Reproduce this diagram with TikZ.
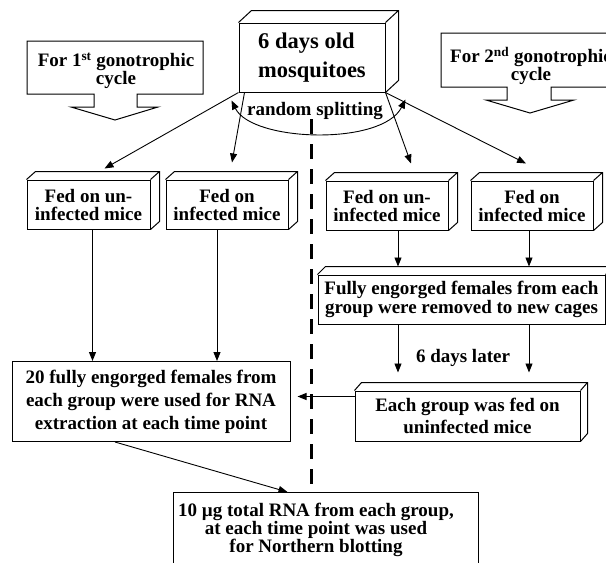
\documentclass[tikz,border=0pt]{standalone}
\usepackage{fontspec}
\setmainfont{Liberation Serif}
\usetikzlibrary{calc,arrows.meta}

\tikzset{
  txt/.style={inner sep=0pt,align=center,font=\bfseries\fontsize{19}{18}\selectfont},
  box/.style={txt,draw,line width=1pt},
  divider/.style={line width=3pt,dash pattern=on 15pt off 10pt}
}
\newcommand{\slab}[3]{\draw[line width=1pt] (#1.north west) -- ++(#2,-#3) -- ($(#1.north east)+(#2,-#3)$) -- ($(#1.south east)+(#2,-#3)$) -- (#1.south east) (#1.north east) -- ++(#2,-#3);}

\begin{document}
\begin{tikzpicture}[x=1pt,y=-1pt,line width=0.9pt,>={Triangle[length=9pt,width=7pt]}]
    \useasboundingbox (0,0) rectangle (606,563);
    \clip (0,0) rectangle (606,563);
    % callouts
    \draw[line width=1pt] (27,41) -- (203,41) -- (203,94) -- (137,94) -- (137,107) -- (158,107) -- (115,120) -- (71,107) -- (94,107) -- (94,94) -- (27,94) -- cycle;
    \node[txt] (c1) at (116,71) {For 1\textsuperscript{st} gonotrophic\\cycle};
    \draw[line width=1pt] (441,33) -- (625,33) -- (625,87) -- (551,87) -- (551,100) -- (574,100) -- (530,113) -- (486,100) -- (507,100) -- (507,87) -- (441,87) -- cycle;
    \node[txt] (c2) at (531,66) {For 2\textsuperscript{nd} gonotrophic\\cycle};
    % boxes
    \node[box,minimum width=146pt,minimum height=69pt,align=left,font=\bfseries\fontsize{22.5}{29}\selectfont] (top) at (312,57.5) {6 days old\\mosquitoes};
    \slab{top}{13}{12}
    \node[box,minimum width=123pt,minimum height=49pt] (fu1) at (88.5,204.5) {Fed on un-\\infected mice};
    \node[box,minimum width=122pt,minimum height=49pt] (fi1) at (227,204.5) {Fed on\\infected mice};
    \node[box,minimum width=122pt,minimum height=49pt] (fu2) at (387,205.5) {Fed on un-\\infected mice};
    \node[box,minimum width=122pt,minimum height=49pt] (fi2) at (532,205.5) {Fed on\\infected mice};
    \slab{fu1}{9}{8}
    \slab{fi1}{9}{8}
    \slab{fu2}{9}{8}
    \slab{fi2}{9}{8}
    \node[box,minimum width=287pt,minimum height=49pt,font=\bfseries\fontsize{19}{19}\selectfont] (eng) at (461.5,299.5) {Fully engorged females from each\\group were removed to new cages};
    \slab{eng}{8}{8}
    \node[box,minimum width=225pt,minimum height=50pt,font=\bfseries\fontsize{19}{22}\selectfont] (each) at (467.5,416) {Each group was fed on\\uninfected mice};
    \slab{each}{7}{8}
    \node[box,minimum width=278pt,minimum height=80pt,font=\bfseries\fontsize{19}{23}\selectfont] (rna20) at (151,401.5) {20 fully engorged females from\\each group were used for RNA\\extraction at each time point};
    \node[box,minimum width=305pt,minimum height=100pt,anchor=north] (rna) at (325.5,492) {};
    \node[txt] (rnatext) at (316,530) {10 µg total RNA from each group,\\at each time point was used\\for Northern blotting};
    \node[txt] (later) at (463,358) {6 days later};
    % splitting
    \coordinate (sl) at ($(top.south west)+(-7,8)$);
    \coordinate (sr) at ($(top.south east)+(20,7)$);
    \draw[<->] (sl) .. controls (252,142) and (382,146) .. (sr);
    \node[txt] (split) at (315,111) {random splitting};
    \draw[divider] (311,119) -- (311,489);
    % arrows
    \draw[->] (top.south west) -- ($(fu1.north)+(16,-11)$);
    \draw[->] ($(top.south west)+(6,0)$) -- ($(fi1.north)+(5,-17)$);
    \draw[->] (top.south east) -- ($(fu2.north)+(24,-17)$);
    \draw[->] (top.south east) -- ($(fi2.north)+(-6,-17)$);
    \coordinate (la) at ([xshift=4pt]fu1.south);
    \coordinate (lb) at ([xshift=-10pt]fi1.south);
    \draw[->] (la) -- (la |- rna20.north);
    \draw[->] (lb) -- (lb |- rna20.north);
    \coordinate (ra) at ([xshift=11pt]fu2.south);
    \coordinate (rb) at ([xshift=-3pt]fi2.south);
    \draw[->] (ra) -- ($(ra |- eng.north)+(0,-8)$);
    \draw[->] (rb) -- ($(rb |- eng.north)+(0,-8)$);
    \draw[->] (ra |- eng.south) -- ($(ra |- each.north)+(0,-18)$);
    \draw[->] (rb |- eng.south) -- ($(rb |- each.north)+(0,-18)$);
    \coordinate (ea) at ([yshift=-6pt]each.north west);
    \draw[->,shorten >=7pt] (ea) -- (ea -| rna20.east);
    \draw[->] ([xshift=-36pt]rna20.south) -- ([xshift=-38pt]rna.north);
\end{tikzpicture}
\end{document}
